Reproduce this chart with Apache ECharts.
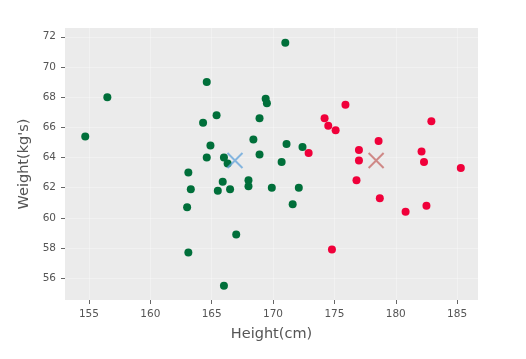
<!DOCTYPE html>
<html>
<head>
<meta charset="utf-8">
<script src="https://cdn.jsdelivr.net/npm/echarts@6/dist/echarts.min.js"></script>
<style>
  html, body { margin: 0; padding: 0; background: #fff; }
  #chart { width: 526px; height: 359px; }
</style>
</head>
<body>
<div id="chart"></div>
<script>
// cluster 0 (green): [height, weight]
const greenPoints = [
  [154.7, 65.4], [156.5, 68.0], [164.6, 69.0], [165.4, 66.8], [164.3, 66.3],
  [164.9, 64.8], [164.6, 64.0], [171.0, 71.6], [169.4, 67.9], [169.5, 67.6],
  [168.9, 66.6], [168.4, 65.2], [168.9, 64.2], [166.0, 64.0], [166.3, 63.6],
  [171.1, 64.9], [172.4, 64.7], [170.7, 63.7], [163.1, 63.0], [165.9, 62.4],
  [168.0, 62.5], [168.0, 62.1], [163.3, 61.9], [165.5, 61.8], [166.5, 61.9],
  [169.9, 62.0], [172.1, 62.0], [163.0, 60.7], [171.6, 60.9], [167.0, 58.9],
  [163.1, 57.7], [166.0, 55.5]
]
// cluster 1 (red)
const redPoints = [
  [175.9, 67.5], [174.2, 66.6], [174.5, 66.1], [175.1, 65.8], [182.9, 66.4],
  [178.6, 65.1], [172.9, 64.3], [177.0, 64.5], [177.0, 63.8], [182.1, 64.4],
  [182.3, 63.7], [185.3, 63.3], [176.8, 62.5], [178.7, 61.3], [180.8, 60.4],
  [182.5, 60.8], [174.8, 57.9]
]
const centroids = [[166.9, 63.8], [178.4, 63.8]]
const xTicks = [155, 160, 165, 170, 175, 180, 185]
const yTicks = [56, 58, 60, 62, 64, 66, 68, 70, 72]

const chart = echarts.init(document.getElementById('chart'))

const axisText = { color: '#555', fontSize: 10.5, fontFamily: 'DejaVu Sans' }
const nameText = { color: '#555', fontSize: 14.5, fontFamily: 'DejaVu Sans' }
const xMark = 'path://M0,0 L10,10 M10,0 L0,10'
const faintGrid = { show: true, lineStyle: { color: 'rgba(255,255,255,0.3)', width: 1 } }

chart.setOption({
  animation: false,
  backgroundColor: '#fff',
  grid: {
    left: 65, right: 48, top: 28, bottom: 59,
    show: true, backgroundColor: '#ebebeb', borderWidth: 0,
  },
  xAxis: {
    type: 'value',
    min: 153.05,
    max: 186.7,
    name: 'Height(cm)',
    nameLocation: 'middle',
    nameGap: 27,
    nameTextStyle: nameText,
    axisLine: { show: false },
    axisTick: { show: true, length: 4, lineStyle: { color: '#666' }, customValues: xTicks },
    axisLabel: { ...axisText, margin: 9, customValues: xTicks },
    splitLine: faintGrid,
  },
  yAxis: {
    type: 'value',
    min: 54.56,
    max: 72.58,
    name: "Weight(kg's)",
    nameLocation: 'middle',
    nameGap: 33,
    nameTextStyle: nameText,
    axisLine: { show: false },
    axisTick: { show: true, length: 4, lineStyle: { color: '#666' }, customValues: yTicks },
    axisLabel: { ...axisText, margin: 9, customValues: yTicks },
    splitLine: faintGrid,
  },
  series: [
    {
      type: 'scatter',
      data: greenPoints,
      symbolSize: 8,
      itemStyle: { color: '#006f3a', opacity: 1 },
    },
    {
      type: 'scatter',
      data: redPoints,
      symbolSize: 8,
      itemStyle: { color: '#f0003a', opacity: 1 },
    },
    {
      type: 'scatter',
      data: [centroids[0]],
      symbol: xMark,
      symbolSize: 15,
      itemStyle: { color: 'transparent', borderColor: '#6aa8dc', borderWidth: 2, opacity: 0.8 },
    },
    {
      type: 'scatter',
      data: [centroids[1]],
      symbol: xMark,
      symbolSize: 15,
      itemStyle: { color: 'transparent', borderColor: '#c8706e', borderWidth: 2, opacity: 0.8 },
    },
  ],
})
</script>
</body>
</html>
